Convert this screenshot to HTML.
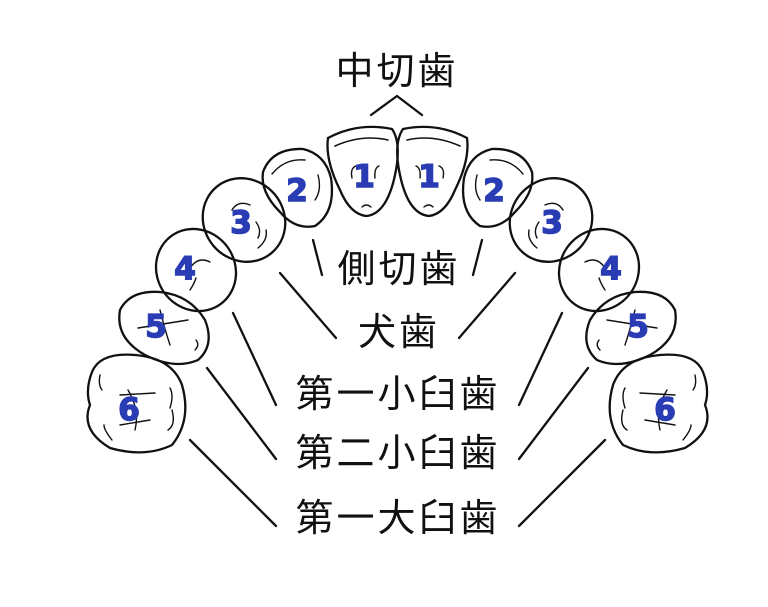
<!DOCTYPE html>
<html><head><meta charset="utf-8"><style>
html,body{margin:0;padding:0;background:#fff;width:768px;height:607px;overflow:hidden}
svg{display:block}
.t{font-family:"Liberation Sans","Noto Sans CJK JP",sans-serif;font-size:38px;fill:#111;text-anchor:middle;letter-spacing:3px}
.n{font-family:"DejaVu Sans","Liberation Sans",sans-serif;font-weight:bold;font-size:31px;fill:#2a3cb4;stroke:#2a3cb4;stroke-width:1.5;text-anchor:middle}
</style></head><body>
<svg width="768" height="607" viewBox="0 0 768 607" xmlns="http://www.w3.org/2000/svg">
<g fill="none" stroke="#111" stroke-width="2.3" stroke-linecap="round">
<g id="L">
<!-- tooth 1 -->
<path d="M328 138 Q358 122 392 129 Q401 142 396 170 Q388 214 366 216 Q350 214 340 190 Q325 160 328 138 Z"/>
<path d="M335 146 Q362 134 388 140" stroke-width="1.6"/>
<path d="M352 178 Q350 168 356 166 M375 178 Q374 168 379 166 M362 207 Q366 203 371 207" stroke-width="1.4"/>
<!-- tooth 2 -->
<path d="M263 172 Q272 148 303 149 Q325 154 331 178 Q336 212 315 226 Q295 230 280 212 Q260 192 263 172 Z"/>
<path d="M272 174 Q285 158 305 160 M318 175 Q322 190 315 200" stroke-width="1.4"/>
<!-- tooth 3 -->
<ellipse cx="244" cy="220" rx="40" ry="43" transform="rotate(-40 244 220)"/>
<path d="M232 210 Q238 200 250 205 M258 248 Q268 240 266 230 M256 222 Q262 230 258 238" stroke-width="1.4"/>
<!-- tooth 4 -->
<ellipse cx="196" cy="270" rx="39" ry="42" transform="rotate(-35 196 270)"/>
<path d="M190 268 Q198 256 210 262 M196 278 Q194 284 190 290" stroke-width="1.4"/>
<!-- tooth 5 -->
<path d="M120 310 Q130 290 160 292 Q190 295 205 320 Q215 345 198 360 Q175 370 145 355 Q115 338 120 310 Z"/>
<path d="M138 328 L188 320 M160 310 Q165 330 170 345 M196 340 Q200 345 195 350" stroke-width="1.4"/>
<!-- tooth 6 -->
<path d="M92 372 Q100 352 135 355 Q172 358 182 385 Q192 420 172 445 Q145 458 110 448 Q80 430 90 405 Q85 390 92 372 Z"/>
<path d="M100 375 Q98 385 102 390 M112 440 Q104 430 104 425 M170 388 Q174 395 170 408 M172 410 Q176 425 168 430 M128 390 Q140 410 135 430 M120 425 L150 420 M120 395 L155 393" stroke-width="1.4"/>
<!-- leader lines -->
<line x1="313" y1="240" x2="322" y2="275"/>
<line x1="280" y1="273" x2="336" y2="338"/>
<line x1="233" y1="313" x2="276" y2="405"/>
<line x1="207" y1="368" x2="276" y2="459"/>
<line x1="190" y1="440" x2="276" y2="526"/>
</g>
<use href="#L" transform="translate(795 0) scale(-1 1)"/>
<polyline points="371,115 397,96 422,115"/>
</g>
<text class="t" x="397" y="84">中切歯</text>
<text class="t" x="399" y="282">側切歯</text>
<text class="t" x="399" y="345">犬歯</text>
<text class="t" x="398" y="407">第一小臼歯</text>
<text class="t" x="398" y="466">第二小臼歯</text>
<text class="t" x="398" y="531">第一大臼歯</text>
<g class="n">
<text x="364" y="187">1</text><text x="429" y="187">1</text>
<text x="297" y="201">2</text><text x="494" y="201">2</text>
<text x="241" y="233">3</text><text x="552" y="233">3</text>
<text x="185" y="279">4</text><text x="611" y="279">4</text>
<text x="156" y="337">5</text><text x="638" y="337">5</text>
<text x="129" y="420">6</text><text x="665" y="420">6</text>
</g>
</svg>
</body></html>
